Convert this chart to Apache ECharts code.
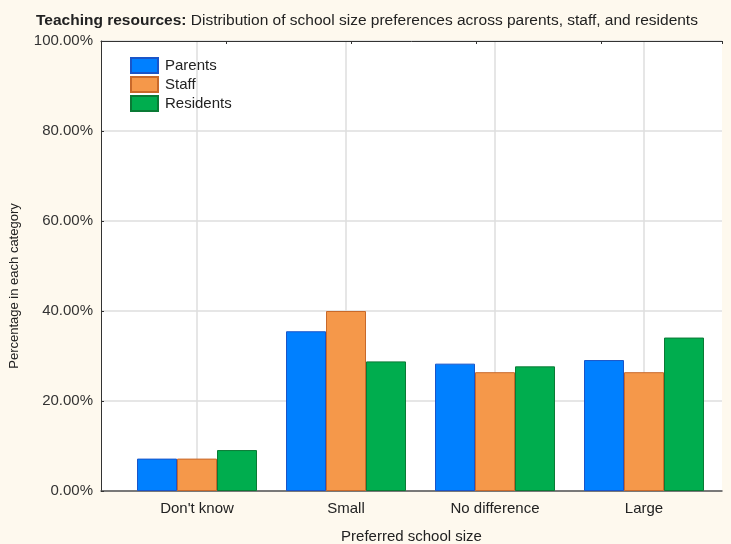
<!DOCTYPE html>
<html>
<head>
<meta charset="utf-8">
<script src="https://cdn.jsdelivr.net/npm/echarts@6/dist/echarts.min.js"></script>
<style>
html,body{margin:0;padding:0;background:#fef9ee;}
#chart{width:731px;height:544px;}
</style>
</head>
<body>
<div id="chart"></div>
<script>
const categories = ["Don't know", "Small", "No difference", "Large"];
const parents = [7.2, 35.5, 28.3, 29.1];
const staff = [7.2, 40.0, 26.4, 26.4];
const residents = [9.1, 28.8, 27.7, 34.1];
const seriesNames = ["Parents", "Staff", "Residents"];

const FONT = '"Liberation Sans", Arial, sans-serif';
const chart = echarts.init(document.getElementById('chart'), null, {renderer: 'canvas'});

function barSeries(name, data, color, border) {
  return {
    name: name, type: 'bar', xAxisIndex: 2, yAxisIndex: 1,
    data: data, barWidth: 40, barGap: '0%', clip: false,
    itemStyle: {color: color, borderColor: border, borderWidth: 1},
    emphasis: {disabled: true}
  };
}

chart.setOption({
  backgroundColor: '#fef9ee',
  animation: false,
  textStyle: {fontFamily: FONT},
  title: {
    left: 31, top: 8,
    text: '{b|Teaching resources:} Distribution of school size preferences across parents, staff, and residents',
    textStyle: {
      fontFamily: FONT, fontSize: 15.5, fontWeight: 'normal', color: '#222',
      rich: {b: {fontFamily: FONT, fontSize: 15.5, fontWeight: 'bold', color: '#222'}}
    }
  },
  legend: {
    orient: 'vertical', left: 130, top: 57, padding: 0,
    itemWidth: 27, itemHeight: 15, itemGap: 2,
    icon: 'rect',
    data: seriesNames,
    textStyle: {fontFamily: FONT, fontSize: 15, color: '#222', padding: [0, 0, 0, 2]}
  },
  grid: [
    {left: 101, right: 9, top: 41, bottom: 53, show: true, backgroundColor: '#ffffff', borderWidth: 0, outerBoundsMode: 'none', containLabel: false},
    {left: 197, right: 87, top: 41, bottom: 53, outerBoundsMode: 'none', containLabel: false}
  ],
  xAxis: [
    {
      gridIndex: 0, type: 'value', position: 'bottom', min: 0, max: 1,
      axisLine: {show: true, lineStyle: {color: '#555', width: 1.5}},
      axisTick: {show: false}, axisLabel: {show: false}, splitLine: {show: false},
      name: 'Preferred school size', nameLocation: 'middle', nameGap: 38,
      nameTextStyle: {fontFamily: FONT, fontSize: 15, color: '#222'}
    },
    {
      gridIndex: 0, type: 'value', position: 'top', min: 0, max: 621 / 125, interval: 1,
      axisLine: {show: true, lineStyle: {color: '#333', width: 1}},
      axisTick: {show: true, inside: true, length: 3, lineStyle: {color: '#333'}},
      axisLabel: {show: false}, splitLine: {show: false}
    },
    {
      gridIndex: 1, type: 'category', data: categories, boundaryGap: false,
      axisLine: {show: false},
      axisTick: {show: true, inside: true, length: 3, lineStyle: {color: '#333'}},
      axisLabel: {fontFamily: FONT, fontSize: 15, color: '#222', margin: 10},
      splitLine: {show: true, lineStyle: {color: '#dedede', width: 1.5}}
    }
  ],
  yAxis: [
    {
      gridIndex: 0, type: 'value', min: 0, max: 100, interval: 20,
      axisLine: {show: true, lineStyle: {color: '#333', width: 1}},
      axisTick: {show: true, inside: true, length: 3, lineStyle: {color: '#333'}},
      axisLabel: {fontFamily: FONT, fontSize: 15, color: '#333', margin: 8,
        formatter: v => v.toFixed(2) + '%'},
      splitLine: {show: true, lineStyle: {color: '#dedede', width: 1.5}},
      name: 'Percentage in each category', nameLocation: 'middle', nameGap: 80,
      nameTextStyle: {fontFamily: FONT, fontSize: 13, color: '#222', padding: [0, 40, 0, 0]}
    },
    {
      gridIndex: 1, type: 'value', min: 0, max: 100,
      axisLine: {show: false}, axisTick: {show: false}, axisLabel: {show: false}, splitLine: {show: false}
    }
  ],
  series: [
    barSeries(seriesNames[0], parents, '#0080ff', '#1a55c8'),
    barSeries(seriesNames[1], staff, '#f5984a', '#c8692a'),
    barSeries(seriesNames[2], residents, '#00ad4e', '#0a7a35')
  ]
});
</script>
</body>
</html>
